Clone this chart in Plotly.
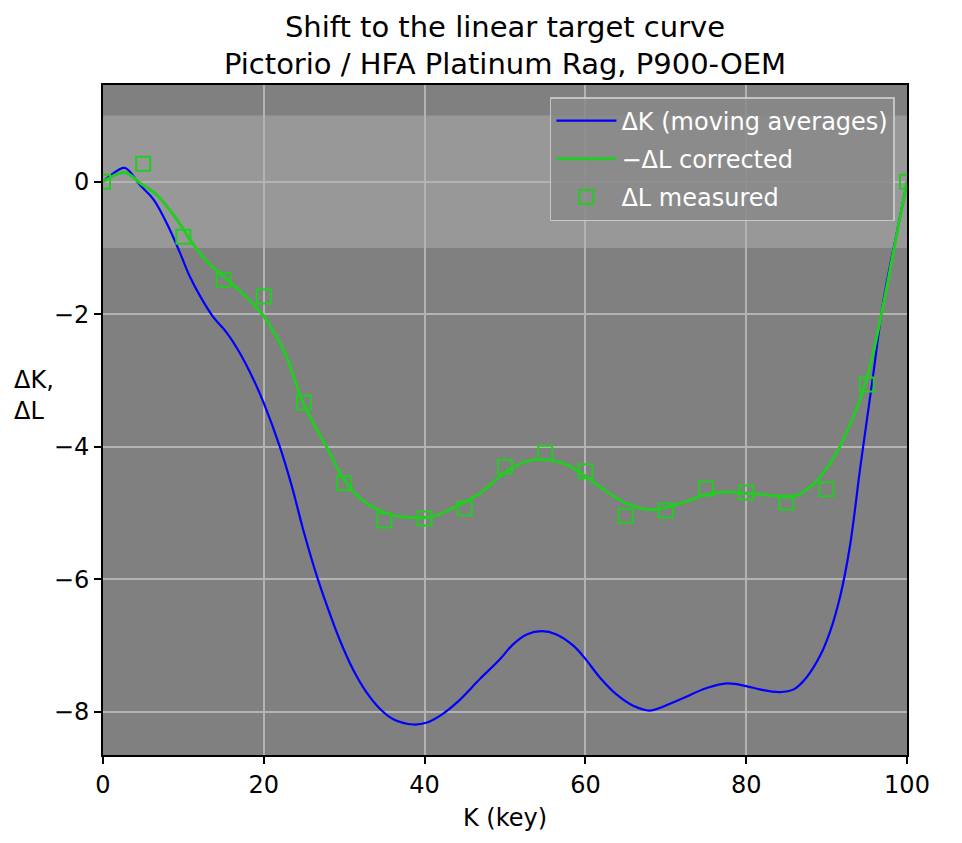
import plotly.graph_objects as go

# values
k_dk = [0, 1, 2.7, 4.6, 6.3, 8.3, 9.6, 10.8, 12.1, 13.7, 15.4, 17, 18.7, 20, 22, 23.5,
        24.9, 26.6, 28.4, 29.5, 31.1, 32.8, 34.5, 36.1, 38.6, 40.3, 41.9, 44, 46.9, 49.4,
        51, 52.7, 54.6, 56.4, 58.5, 60, 61.8, 63.9, 66, 68, 71.4, 75.1, 77.6, 80, 81.7,
        84.2, 85.9, 87.5, 89.2, 90.4, 91.7, 92.9, 94.2, 95.8, 96.8, 97.5, 99.2, 100]
dk = [0, 0.1, 0.21, -0.05, -0.27, -0.72, -1.08, -1.43, -1.73, -2.04, -2.28, -2.58, -2.98,
      -3.34, -4.0, -4.6, -5.25, -5.95, -6.58, -6.93, -7.36, -7.71, -7.96, -8.11, -8.19,
      -8.16, -8.06, -7.86, -7.5, -7.2, -6.98, -6.83, -6.78, -6.83, -7.0, -7.2, -7.48,
      -7.74, -7.91, -7.98, -7.83, -7.64, -7.57, -7.61, -7.66, -7.7, -7.66, -7.48, -7.15,
      -6.8, -6.25, -5.5, -4.3, -2.91, -2.0, -1.51, -0.49, 0]

k_dl = [0, 2.7, 4.6, 6.7, 9.2, 10.8, 12.9, 15, 17.5, 20, 22.8, 24.9, 27.8, 30.3, 32.8,
        35.7, 38.6, 41.1, 43.6, 46.9, 50.2, 52.7, 54.8, 57.7, 60.2, 62, 64.9, 68, 71.4,
        75.1, 77.6, 80, 83, 85.9, 88.4, 90.8, 92.9, 95, 97.1, 98.7, 100]
dl_corr = [0, 0.14, -0.02, -0.2, -0.57, -0.87, -1.2, -1.43, -1.7, -2.03, -2.63, -3.34,
           -4.0, -4.55, -4.85, -5.02, -5.07, -5.05, -4.92, -4.7, -4.37, -4.22, -4.19,
           -4.27, -4.46, -4.62, -4.84, -4.95, -4.87, -4.72, -4.68, -4.7, -4.73, -4.75,
           -4.56, -4.18, -3.67, -2.97, -1.83, -0.81, 0]

k_meas = [0, 5, 10, 15, 20, 25, 30, 35, 40, 45, 50, 55, 60, 65, 70, 75, 80, 85, 90, 95, 100]
dl_meas = [0, 0.27, -0.83, -1.48, -1.73, -3.33, -4.55, -5.11, -5.08, -4.93, -4.3, -4.09,
           -4.37, -5.04, -4.96, -4.63, -4.69, -4.84, -4.64, -3.06, 0]

x_ticks = [0, 20, 40, 60, 80, 100]
y_ticks = [-8, -6, -4, -2, 0]

FONT = "DejaVu Sans"
GREEN = "#22cc22"

fig = go.Figure()
fig.add_trace(go.Scatter(x=k_dk, y=dk, mode="lines", name="ΔK (moving averages)",
                         legendgroup="a",
                         line=dict(color="#0000ff", width=2.2, shape="spline", smoothing=1.0)))
fig.add_trace(go.Scatter(x=k_dl, y=dl_corr, mode="lines", name="−ΔL corrected",
                         legendgroup="b",
                         line=dict(color=GREEN, width=3, shape="spline", smoothing=1.0)))
fig.add_trace(go.Scatter(x=k_meas, y=dl_meas, mode="markers", name="ΔL measured",
                         legendgroup="c",
                         marker=dict(symbol="square-open", size=14, color=GREEN,
                                     line=dict(color=GREEN, width=2))))

# tolerance band
fig.add_shape(type="rect", xref="paper", x0=0, x1=1, yref="y", y0=-1, y1=1,
              fillcolor="#989898", line_width=0, layer="below")

axis_style = dict(showgrid=True, gridcolor="#b3b3b3", gridwidth=1.5, zeroline=False,
                  ticks="outside", ticklen=7, tickwidth=1.5, tickcolor="black",
                  showline=True, mirror=True, linecolor="black", linewidth=2,
                  tickfont=dict(size=24, color="black"))

fig.update_xaxes(range=[0, 100], tickvals=x_ticks,
                 title=dict(text="K (key)", font=dict(size=24, color="black"), standoff=11),
                 **axis_style)
fig.update_yaxes(range=[-8.65, 1.46], tickvals=y_ticks, **axis_style)

fig.add_annotation(text="ΔK,<br>ΔL", xref="paper", yref="paper", x=-0.113, y=0.537,
                   xanchor="left", yanchor="middle", align="left", showarrow=False,
                   font=dict(size=24, color="black"))

# the page puts the figure 8px in from the top-left corner
fig.update_layout(
    width=962, height=843,
    margin=dict(l=95, r=63, t=77, b=96),
    paper_bgcolor="white", plot_bgcolor="#808080",
    font=dict(family=FONT, color="black"),
    title=dict(text="Shift to the linear target curve<br>Pictorio / HFA Platinum Rag, P900-OEM",
               x=0.5, xref="paper", xanchor="center", y=1 - 28.5 / 843, yref="container",
               yanchor="middle", font=dict(size=29, color="black")),
    legend=dict(x=0.985, y=0.982, xanchor="right", yanchor="top", itemwidth=60,
                tracegroupgap=4,
                bgcolor="rgba(136,136,136,0.85)", bordercolor="rgba(210,210,210,0.8)",
                borderwidth=1.5, font=dict(size=24, color="white")),
    showlegend=True,
)

fig.write_html("out.html")
